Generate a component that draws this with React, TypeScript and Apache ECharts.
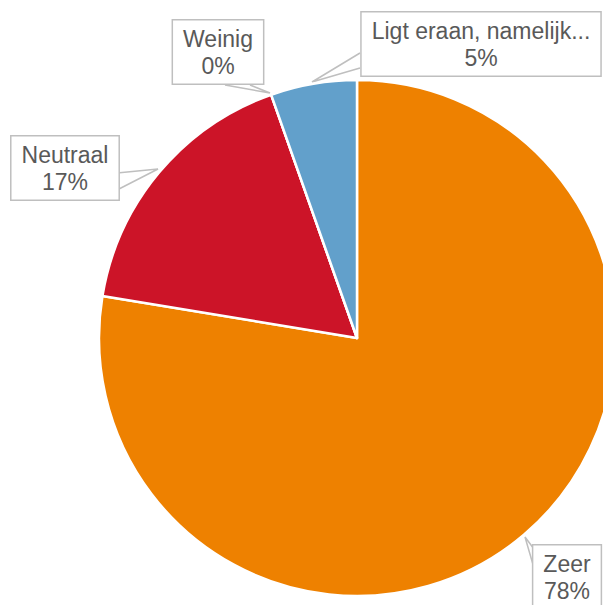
import React, { useEffect, useRef } from "react";
import * as echarts from "echarts";

const categories = ["Zeer", "Neutraal", "Weinig", "Ligt eraan, namelijk..."];
const values = [77.6, 17.0, 0, 5.4];
const colors = ["#EE8100", "#CC1428", "#A5A5A5", "#62A0CB"];

// label placement (layout only): callout wedge = [box edge A, tip, box edge B]
const labelPos: Record<number, { x: number; y: number; line: number[][] }> = {
  0: { x: 567, y: 577, line: [[534, 549], [525, 537], [534, 568]] },
  1: { x: 65, y: 168, line: [[117, 173], [158, 169], [117, 190]] },
  2: { x: 218, y: 52, line: [[225, 85], [270, 93], [250, 85]] },
  3: { x: 481, y: 44, line: [[360, 53], [312, 82], [360, 68]] },
};

export default function App() {
  const ref = useRef<HTMLDivElement>(null);
  useEffect(() => {
    if (!ref.current) return;
    const chart = echarts.init(ref.current, undefined, { renderer: "svg" });
    chart.setOption({
      animation: false,
      backgroundColor: "#ffffff",
      series: [
        {
          type: "pie",
          center: [357, 338],
          radius: 258,
          startAngle: 90,
          clockwise: true,
          percentPrecision: 0,
          avoidLabelOverlap: false,
          data: categories.map((c, i) => ({
            name: c,
            value: values[i],
            itemStyle: { color: colors[i] },
          })),
          itemStyle: { borderColor: "#ffffff", borderWidth: 2.5 },
          label: {
            show: true,
            formatter: "{b}\n{d}%",
            fontFamily: "Liberation Sans, Arial, sans-serif",
            fontSize: 23,
            lineHeight: 27,
            color: "#595959",
            backgroundColor: "#ffffff",
            borderColor: "#BFBFBF",
            borderWidth: 1.5,
            padding: [6, 10, 3, 10],
            align: "center",
          },
          labelLine: {
            show: true,
            smooth: false,
            lineStyle: { color: "#BFBFBF", width: 1.5 },
          },
          labelLayout: (params: any) => {
            const p = labelPos[params.dataIndex];
            return {
              x: p.x,
              y: p.y,
              align: "center",
              verticalAlign: "middle",
              labelLinePoints: p.line,
            };
          },
          emphasis: { disabled: true },
        },
      ],
    });
    return () => chart.dispose();
  }, []);
  return (
    <div
      ref={ref}
      style={{ position: "fixed", left: 0, top: 0, width: 603, height: 605 }}
    />
  );
}
